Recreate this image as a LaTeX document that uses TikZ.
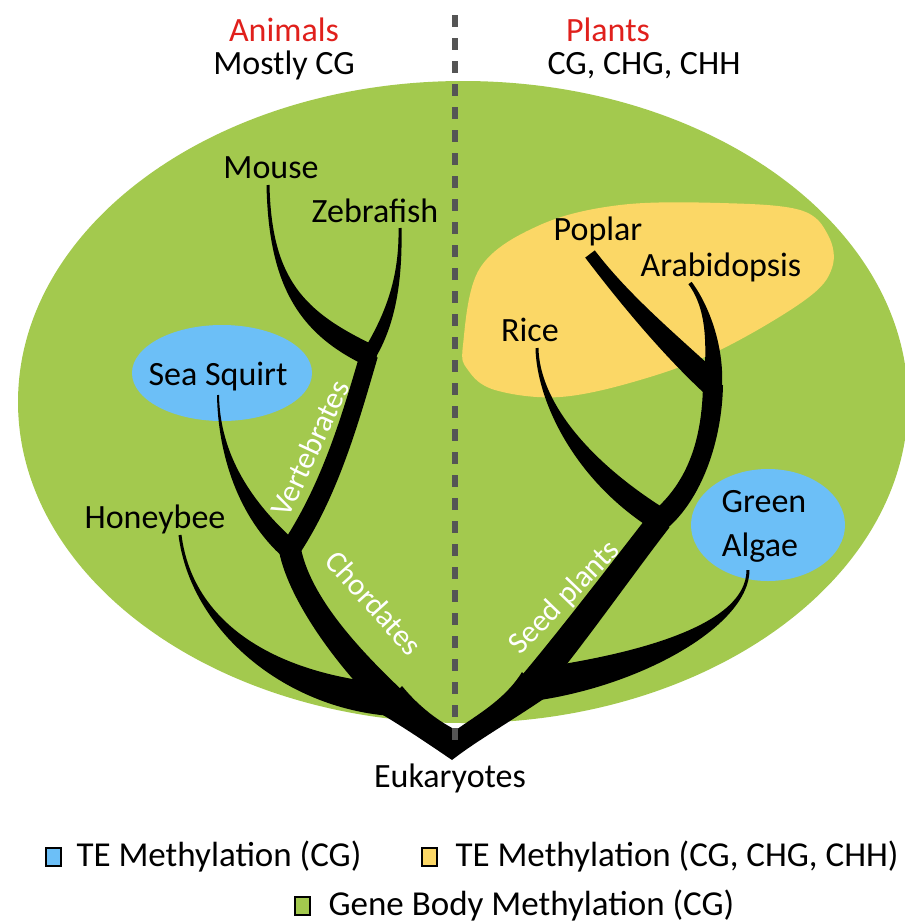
\documentclass[tikz,border=0pt]{standalone}
\usepackage{fontspec}
\setmainfont{Carlito}
\usetikzlibrary{calc}

\definecolor{bodygreen}{HTML}{A3C94E}
\definecolor{teyellow}{HTML}{FBD766}
\definecolor{teblue}{HTML}{6CBFF7}
\definecolor{kingdomred}{HTML}{E0201C}
\definecolor{divgray}{HTML}{555555}

% tapered branch: #1 -> #4, controls #2 and #3, half widths #5 and #6
\newcommand{\branch}[6]{%
	\fill ($(#1)!#5!90:#2$) .. controls ($#2!#5!-90:(#1)$) and ($#3!#6!90:(#4)$) .. ($(#4)!#6!-90:#3$)
	-- ($(#4)!#6!90:#3$) .. controls ($#3!#6!-90:(#4)$) and ($#2!#5!90:(#1)$) .. ($(#1)!#5!-90:#2$) -- cycle;}

\begin{document}
\begin{tikzpicture}[x=1pt,y=-1pt]
	\tikzstyle{every node}=[font=\fontsize{34}{40}\selectfont]
	\tikzstyle{clade}=[white,font=\fontsize{31}{37}\selectfont]
	\tikzstyle{kingdom}=[kingdomred]
	\tikzstyle{key}=[draw,line width=1.5pt,minimum width=15pt,minimum height=18pt,inner sep=0pt]
	\tikzstyle{keytext}=[anchor=base west,font=\fontsize{35}{41}\selectfont]
	\tikzstyle{divider}=[divgray,line width=6pt,dash pattern=on 12pt off 11pt]

	\useasboundingbox (0,0) rectangle (905,922);

	% methylation areas
	\fill[bodygreen] (463,402) ellipse (445 and 321);
	\fill[teyellow] plot[smooth cycle,tension=0.6] coordinates {(463,345) (480,268) (540,225) (620,205) (720,203) (800,210) (828,235) (832,268) (805,300) (720,350) (640,380) (560,397) (495,390) (468,370)};
	\fill[teblue] (222,373) ellipse (90 and 48);
	\fill[teblue] (768,525) ellipse (77 and 56);

	% tips and junctions
	\coordinate (mouse) at (268,185);
	\coordinate (zebra) at (400,228);
	\coordinate (squirt) at (218,395);
	\coordinate (honey) at (180,535);
	\coordinate (poplar) at (590,254);
	\coordinate (arab) at (690,283);
	\coordinate (rice) at (537,348);
	\coordinate (algae) at (748,570);
	\coordinate (vj) at (369,355);
	\coordinate (cj) at (290,550);
	\coordinate (lj) at (392,700);
	\coordinate (pj) at (713,385);
	\coordinate (sj) at (660,520);
	\coordinate (rj) at (532,685);
	\coordinate (root) at (452,760);
	\coordinate (notch) at (456,730);

	% animals
	\branch{mouse}{(270,280)}{(300,322)}{vj}{1.5pt}{11pt}
	\branch{zebra}{(401,280)}{(390,320)}{vj}{1.5pt}{7pt}
	\branch{vj}{(350,420)}{(330,490)}{cj}{9pt}{10pt}
	\branch{squirt}{(219,455)}{(245,510)}{cj}{1pt}{10pt}
	\branch{cj}{(300,600)}{(350,660)}{lj}{11pt}{14pt}
	\branch{honey}{(192,630)}{(285,692)}{lj}{1.5pt}{16pt}
	% plants
	\branch{poplar}{(625,300)}{(670,345)}{pj}{6pt}{12pt}
	\branch{arab}{(710,310)}{(715,350)}{pj}{2pt}{9pt}
	\branch{pj}{(712,440)}{(695,490)}{sj}{10pt}{11pt}
	\branch{rice}{(538,400)}{(580,470)}{sj}{1.5pt}{12pt}
	\branch{sj}{(625,565)}{(570,640)}{rj}{12pt}{14pt}
	\branch{algae}{(748,625)}{(640,670)}{rj}{1.5pt}{16pt}
	\foreach \j/\r in {vj/8,cj/9,lj/13,pj/9,sj/10,rj/13}
		\fill (\j) circle (\r pt);
	% eukaryote root
	\fill (root) .. controls (430,745) and (405,728) .. (378,712) -- (402,686)
		.. controls (420,708) and (440,722) .. (notch) .. controls (475,716) and (505,700) .. (522,672)
		-- (545,698) .. controls (505,725) and (475,742) .. (root) -- cycle;

	\coordinate (divtop) at (455,15);
	\coordinate (divbot) at (455,745);
	\draw[divider] (divtop) -- (divbot);

	% labels
	\node[anchor=base,kingdom] (animals) at (284,41) {Animals};
	\node[anchor=base] (animalctx) at (284,74) {Mostly CG};
	\node[anchor=base,kingdom] (plants) at (608,41) {Plants};
	\node[anchor=base] (plantctx) at (644,74) {CG, CHG, CHH};
	\node[anchor=base] (mouselbl) at (271,178) {Mouse};
	\node[anchor=base] (zebralbl) at (375,222) {Zebrafish};
	\node[anchor=base] (squirtlbl) at (218,385) {Sea Squirt};
	\node[anchor=base] (honeylbl) at (155,528) {Honeybee};
	\node[anchor=base] (poplarlbl) at (598,240) {Poplar};
	\node[anchor=base] (arablbl) at (721,276) {Arabidopsis};
	\node[anchor=base] (ricelbl) at (530,341) {Rice};
	\node[anchor=base] (greenlbl) at (764,512) {Green};
	\node[anchor=base] (algaelbl) at (760,556) {Algae};
	\node[anchor=base] (eukaryotes) at (450,787) {Eukaryotes};
	\node[clade,rotate=65] (vertebrates) at (310,448) {Vertebrates};
	\node[clade,rotate=-48] (chordates) at (374,603) {Chordates};
	\node[clade,rotate=46] (seedplants) at (565,598) {Seed plants};

	% legend
	\node[key,fill=teblue] (keyblue) at (53.5,857) {};
	\node[keytext] (keybluetxt) at (73,866) {TE Methylation (CG)};
	\node[key,fill=teyellow] (keyyellow) at (429.5,857) {};
	\node[keytext] (keyyellowtxt) at (452,866) {TE Methylation (CG, CHG, CHH)};
	\node[key,fill=bodygreen] (keygreen) at (302.5,906) {};
	\node[keytext] (keygreentxt) at (325,915) {Gene Body Methylation (CG)};
\end{tikzpicture}
\end{document}
